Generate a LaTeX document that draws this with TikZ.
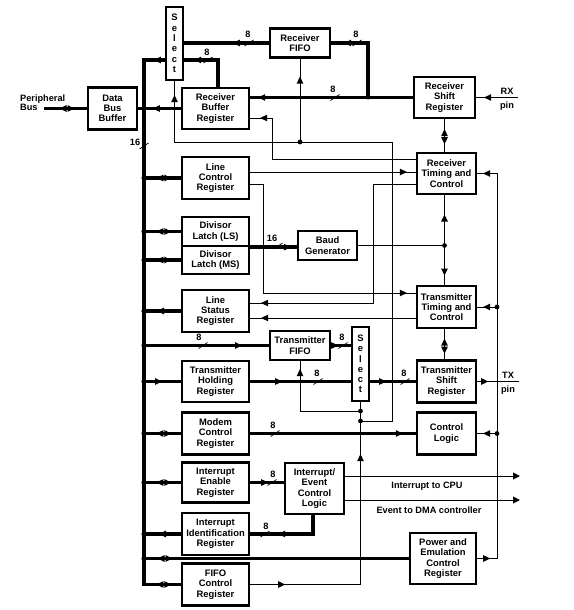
\documentclass[tikz,border=0pt]{standalone}
\usepackage{fontspec}
\setmainfont{Liberation Sans}
\usetikzlibrary{decorations.markings,arrows.meta,calc}
\begin{document}
\begin{tikzpicture}[x=1pt,y=-1pt,
 box/.style={draw,line width=2.3pt,inner sep=0pt,align=center,font=\bfseries\fontsize{9.4}{10.3}\selectfont},
 bus/.style={line width=3.5pt},
 sig/.style={line width=0.9pt},
 lab/.style={font=\bfseries\fontsize{9.2}{10.3}\selectfont,inner sep=0pt,align=center},
 fa/.style={postaction={decorate,decoration={markings,mark=at position #1 with {\fill (0,0)--(-7,3.4)--(-7,-3.4)--cycle;}}}},
 ba/.style={postaction={decorate,decoration={markings,mark=at position #1 with {\fill (0,0)--(7,3.4)--(7,-3.4)--cycle;}}}},
 da/.style={postaction={decorate,decoration={markings,mark=at position #1 with {\fill (-7.5,0)--(-0.5,3.4)--(-0.5,-3.4)--cycle; \fill (7.5,0)--(0.5,3.4)--(0.5,-3.4)--cycle;}}}},
 pics/bw/.style={code={\draw[line width=0.7pt] (-4.5,3) -- (4.5,-3);}},
 endarrow/.style={-{Triangle[length=7pt,width=6.8pt]}}
]
\useasboundingbox (0,0) rectangle (573,610);

% ---------- boxes ----------
\node[box,minimum width=17pt,minimum height=73pt] (sel1) at (174.5,43.5) {S\\e\\l\\e\\c\\t};
\node[box,minimum width=49pt,minimum height=42pt] (dbb) at (112.5,108.5) {Data\\Bus\\Buffer};
\node[box,minimum width=67pt,minimum height=41pt] (rbr) at (215.5,108.5) {Receiver\\Buffer\\Register};
\node[box,minimum width=60pt,minimum height=29pt] (rfifo) at (300,43) {Receiver\\FIFO};
\node[box,minimum width=61pt,minimum height=41pt] (rsr) at (444.5,97.5) {Receiver\\Shift\\Register};
\node[box,minimum width=59pt,minimum height=41pt] (rtc) at (446.5,173.5) {Receiver\\Timing and\\Control};
\node[box,minimum width=67pt,minimum height=42pt] (lcr) at (215.5,178) {Line\\Control\\Register};
\node[box,minimum width=67pt,minimum height=29pt] (dll) at (215.5,231.5) {Divisor\\Latch (LS)};
\node[box,minimum width=67pt,minimum height=28pt] (dlm) at (215.5,260) {Divisor\\Latch (MS)};
\node[box,minimum width=59pt,minimum height=29pt] (baud) at (327.5,245.5) {Baud\\Generator};
\node[box,minimum width=67pt,minimum height=42pt] (lsr) at (215.5,311) {Line\\Status\\Register};
\node[box,minimum width=59pt,minimum height=42pt] (ttc) at (446.5,307) {Transmitter\\Timing and\\Control};
\node[box,minimum width=60pt,minimum height=29pt] (tfifo) at (300,345.5) {Transmitter\\FIFO};
\node[box,minimum width=17pt,minimum height=74pt] (sel2) at (360.5,364) {S\\e\\l\\e\\c\\t};
\node[box,minimum width=67pt,minimum height=41pt] (thr) at (215.5,381.5) {Transmitter\\Holding\\Register};
\node[box,minimum width=59pt,minimum height=42pt] (tsr) at (446.5,381.5) {Transmitter\\Shift\\Register};
\node[box,minimum width=67pt,minimum height=42pt] (mcr) at (215.5,433.5) {Modem\\Control\\Register};
\node[box,minimum width=59pt,minimum height=42pt] (cl) at (446.5,433.5) {Control\\Logic};
\node[box,minimum width=67pt,minimum height=40pt] (ier) at (215.5,482.5) {Interrupt\\Enable\\Register};
\node[box,minimum width=59pt,minimum height=51pt] (iecl) at (314.5,488.5) {Interrupt/\\Event\\Control\\Logic};
\node[box,minimum width=67pt,minimum height=42pt] (iir) at (215.5,534) {Interrupt\\Identification\\Register};
\node[box,minimum width=66pt,minimum height=51pt] (pecr) at (443,558.5) {Power and\\Emulation\\Control\\Register};
\node[box,minimum width=67pt,minimum height=42pt] (fcr) at (215.5,584.5) {FIFO\\Control\\Register};

% ---------- coordinates ----------
\coordinate (bt) at (144,60);
\coordinate (bb) at (144,584.5);
\coordinate (pbx) at (44,108.5);
\coordinate (j1) at (368,97.5);
\coordinate (rx) at (518,97.5);
\coordinate (j2) at (444.5,245.5);
\coordinate (rb1) at (497,558.5);
\coordinate (k1) at (392,142);
\coordinate (k2) at (300,142);
\coordinate (s2a) at (360.5,411);
\coordinate (s2b) at (360.5,421);
\coordinate (f1) at (360.5,584.5);
\coordinate (tx) at (519,381.5);
\coordinate (o1) at (520,476);
\coordinate (o2) at (520,500);

% ---------- labels ----------
\node[lab,align=left,anchor=west,font=\bfseries\fontsize{9.2}{8.6}\selectfont] (pbl) at (20,103) {Peripheral\\Bus};
\node[lab] (rxl) at (507,91) {RX};
\node[lab] (rxp) at (507,106) {pin};
\node[lab] (txl) at (508,375) {TX};
\node[lab] (txp) at (508,390) {pin};
\node[lab] (icpu) at (427,486) {Interrupt to CPU};
\node[lab] (idma) at (429,510) {Event to DMA controller};

% ---------- main bus ----------
\draw[bus,fa=11pt,da=-17pt] (sel1.west |- bt) -- (bt) -- (bb) -- (fcr.west);
\draw[bus,da=23pt] (pbx) -- (dbb.west);
\draw[bus] (dbb.east) -- (dbb.east -| bt);
\draw[bus,fa=28pt] (rbr.west) -- (rbr.west -| bt);
\draw[bus,da=-17pt] (lcr.west -| bt) -- (lcr.west);
\draw[bus,da=-17pt] (dll.west -| bt) -- (dll.west);
\draw[bus,da=-17pt] (dlm.west -| bt) -- (dlm.west);
\draw[bus,ba=13pt] (lsr.west -| bt) -- (lsr.west);
\draw[bus,fa=98pt] (tfifo.west -| bt) -- (tfifo.west);
\draw[bus,fa=18pt] (thr.west -| bt) -- (thr.west);
\draw[bus,da=-17pt] (mcr.west -| bt) -- (mcr.west);
\draw[bus,da=-17pt] (ier.west -| bt) -- (ier.west);
\draw[bus,ba=15pt] (iir.west -| bt) -- (iir.west);
\draw[bus,da=21pt] (pecr.west -| bt) -- (pecr.west);
\foreach \n in {dbb,lcr,dll,dlm,lsr,tfifo,thr,mcr,ier,iir,pecr}
  \fill (\n.west -| bt) circle (2.6pt);
\fill (dbb.east -| bt) circle (2.6pt);
\pic at (144,146) {bw};
\node[lab] (l16a) at (135,142) {16};

% ---------- receiver path ----------
\draw[bus,fa=-10pt] ([xshift=2.5pt]rbr.north) |- (sel1.east |- bt);
\pic at (208,60) {bw};
\node[lab] (l8a) at (207,52) {8};
\draw[bus,fa=36pt] (rfifo.west) -- (rfifo.west -| sel1.east);
\pic at (249,43) {bw};
\node[lab] (l8b) at (248,34) {8};
\draw[bus,fa=-8pt] (rsr.west) -- (rsr.west -| rbr.east);
\pic at (335,97.5) {bw};
\node[lab] (l8c) at (333,89) {8};
\draw[bus,fa=-13pt] (j1) |- (rfifo.east);
\pic at (357,43) {bw};
\node[lab] (l8d) at (356,34) {8};
\fill (j1) circle (2pt);
\draw[sig,fa=-8pt] (rx) -- (rsr.east);
\draw[sig,da=17.5pt] (rsr.south) -- (rsr.south |- rtc.north);

% ---------- select 1 control / fifo control ----------
\draw[sig,fa=-14pt] (s2b) -| (k1) -| (sel1.south);
\draw[sig,fa=-18pt] (k2) -- (rfifo.south);
\fill (k2) circle (2.4pt);
\draw[sig,fa=-8pt] (s2a) -| (tfifo.south);
\draw[sig,fa=35pt,fa=-52pt] (fcr.east) -- (f1) -- (sel2.south);
\fill (s2a) circle (2.4pt);
\fill (s2b) circle (2.4pt);

% ---------- timing & control ----------
\draw[sig,fa=-10pt] (rtc.west |- 0,159) -| (272,118) -- (rbr.east |- 0,118);
\draw[sig,fa=-9pt] (lcr.east |- 0,172) -- (rtc.west |- 0,172);
\draw[sig,fa=-9pt] (lcr.east |- 0,184) -| (263,293) -- (ttc.west |- 0,293);
\draw[sig,fa=-11pt] (rtc.west |- 0,184) -| (373,303) -- (lsr.east |- 0,303);
\draw[sig,fa=-11pt] (ttc.west |- 0,318) -- (lsr.east |- 0,318);
\draw[bus,fa=-6pt] (dll.south east) -- (baud.west |- dll.south east);
\pic at (278,246) {bw};
\node[lab] (l16b) at (272,238) {16};
\draw[sig] (baud.east) -- (j2);
\draw[sig,fa=31pt] (j2) -- (j2 |- rtc.south);
\draw[sig,fa=30pt] (j2) -- (j2 |- ttc.north);
\fill (j2) circle (2.4pt);
\draw[sig,da=17pt] (ttc.south -| j2) -- (j2 |- tsr.north);
\draw[sig,fa=13pt,fa=-6pt] (pecr.east) -- (rb1) |- (rtc.east);
\draw[sig,fa=-6pt] (ttc.east -| rb1) -- (ttc.east);
\draw[sig,fa=-6pt] (cl.east -| rb1) -- (cl.east);
\fill (ttc.east -| rb1) circle (2.4pt);
\fill (cl.east -| rb1) circle (2.4pt);

% ---------- transmitter path ----------
\draw[bus,fa=7pt] (tfifo.east) -- (tfifo.east -| sel2.west);
\pic at (343,345.5) {bw};
\node[lab] (l8e) at (342,337) {8};
\pic at (203,345.5) {bw};
\node[lab] (l8f) at (199,337) {8};
\draw[bus,fa=32pt] (thr.east) -- (thr.east -| sel2.west);
\pic at (318,381.5) {bw};
\node[lab] (l8g) at (317,373) {8};
\draw[bus,fa=16pt] (sel2.east |- tsr.west) -- (tsr.west);
\pic at (405,381.5) {bw};
\node[lab] (l8h) at (404,373) {8};
\draw[sig,fa=11pt] (tsr.east) -- (tx);

% ---------- modem / interrupts ----------
\draw[bus,fa=-13pt] (mcr.east) -- (cl.west);
\pic at (275,433.5) {bw};
\node[lab] (l8i) at (273,425) {8};
\draw[bus,fa=18pt] (ier.east) -- (ier.east -| iecl.west);
\pic at (272,482.5) {bw};
\node[lab] (l8j) at (273,474) {8};
\draw[bus,fa=-28pt] ([xshift=-1.5pt]iecl.south) |- (iir.east);
\pic at (265,534) {bw};
\node[lab] (l8k) at (266,526) {8};
\draw[sig,endarrow] (iecl.east |- o1) -- (o1);
\draw[sig,endarrow] (iecl.east |- o2) -- (o2);
\end{tikzpicture}
\end{document}
